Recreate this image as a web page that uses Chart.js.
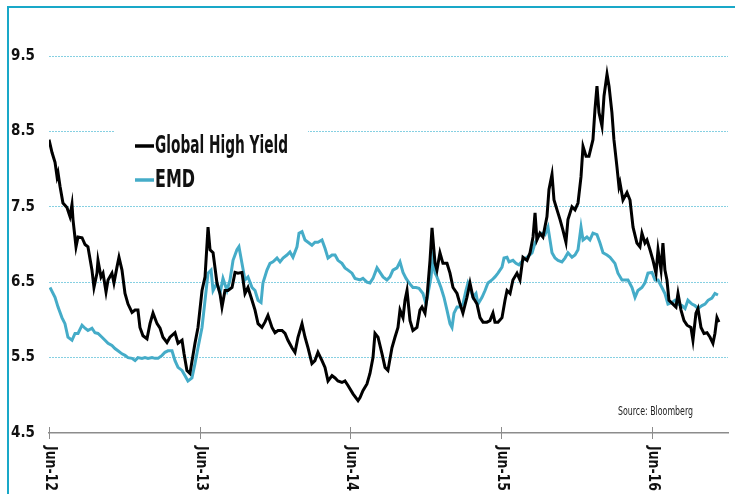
<!DOCTYPE html>
<html>
<head>
<meta charset="utf-8">
<script src="https://cdn.jsdelivr.net/npm/chart.js@4.4.1/dist/chart.umd.min.js"></script>
<style>
  html, body { margin: 0; padding: 0; background: #fff; }
  #wrap { position: relative; width: 735px; height: 494px; overflow: hidden; }
  #frame { position: absolute; left: 7px; top: 6px; right: -2px; bottom: -2px;
           border-top: 2px solid #19a8c8; border-left: 2px solid #19a8c8; pointer-events: none; }
  canvas { position: absolute; left: 0; top: 0; }
</style>
</head>
<body>
<div id="wrap">
  <canvas id="chart" width="735" height="494"></canvas>
  <div id="frame"></div>
</div>
<script>
// months since Jun-12
const xTickMonths = [0, 12, 24, 36, 48];
const xTickLabels = ['Jun-12', 'Jun-13', 'Jun-14', 'Jun-15', 'Jun-16'];
const yTickValues = [4.5, 5.5, 6.5, 7.5, 8.5, 9.5];

const hyMonths = [0.0, 0.24, 0.48, 0.64, 0.72, 0.88, 1.11, 1.43, 1.67, 1.83, 1.91, 2.15, 2.31, 2.63, 2.87, 3.10,
  3.42, 3.58, 3.82, 3.90, 4.14, 4.30, 4.54, 4.70, 5.01, 5.17, 5.41, 5.57, 5.81, 6.05, 6.29, 6.61, 6.85, 7.08,
  7.24, 7.48, 7.80, 8.04, 8.28, 8.60, 8.84, 9.07, 9.39, 9.63, 10.03, 10.27, 10.59, 10.75, 10.98, 11.22, 11.62,
  11.86, 12.18, 12.42, 12.66, 12.82, 13.06, 13.37, 13.61, 13.77, 14.01, 14.25, 14.57, 14.81, 15.04, 15.36,
  15.60, 15.84, 16.16, 16.40, 16.64, 16.95, 17.19, 17.43, 17.75, 17.99, 18.23, 18.55, 18.79, 19.02, 19.34,
  19.58, 19.82, 20.14, 20.38, 20.62, 20.93, 21.17, 21.41, 21.73, 21.97, 22.21, 22.53, 22.77, 23.00, 23.32,
  23.56, 23.80, 24.20, 24.60, 24.76, 24.99, 25.31, 25.55, 25.79, 25.95, 26.19, 26.51, 26.75, 26.98, 27.30,
  27.54, 27.78, 27.94, 28.18, 28.34, 28.50, 28.74, 28.97, 29.29, 29.53, 29.69, 29.93, 30.09, 30.33, 30.49,
  30.73, 30.88, 31.12, 31.36, 31.68, 31.92, 32.16, 32.48, 32.72, 32.95, 33.27, 33.51, 33.75, 34.07, 34.31,
  34.55, 34.86, 35.10, 35.34, 35.50, 35.74, 36.06, 36.30, 36.46, 36.70, 36.93, 37.25, 37.49, 37.73, 38.05,
  38.29, 38.53, 38.69, 38.84, 39.08, 39.32, 39.64, 39.80, 40.04, 40.20, 40.44, 40.68, 40.91, 41.15, 41.31,
  41.63, 41.87, 42.11, 42.35, 42.51, 42.75, 42.98, 43.30, 43.46, 43.62, 43.78, 44.02, 44.18, 44.42, 44.58,
  44.81, 44.97, 45.21, 45.37, 45.45, 45.69, 46.01, 46.25, 46.49, 46.80, 47.04, 47.20, 47.44, 47.60, 47.84,
  48.08, 48.32, 48.48, 48.72, 48.87, 49.03, 49.19, 49.35, 49.67, 49.91, 50.07, 50.31, 50.55, 50.79, 51.10,
  51.26, 51.50, 51.66, 51.90, 52.14, 52.38, 52.62, 52.85, 53.01, 53.17, 53.33];
const hyValues = [8.39, 8.22, 8.09, 7.90, 7.95, 7.77, 7.55, 7.49, 7.37, 7.53, 7.33, 6.97, 7.10, 7.09, 7.00, 6.97,
  6.66, 6.43, 6.62, 6.79, 6.57, 6.62, 6.37, 6.53, 6.62, 6.49, 6.70, 6.83, 6.66, 6.35, 6.21, 6.10, 6.13, 6.13,
  5.90, 5.79, 5.75, 5.95, 6.09, 5.95, 5.89, 5.77, 5.70, 5.77, 5.83, 5.69, 5.73, 5.55, 5.33, 5.29, 5.69,
  5.90, 6.39, 6.57, 7.23, 6.93, 6.89, 6.49, 6.35, 6.17, 6.39, 6.39, 6.43, 6.63, 6.62, 6.63,
  6.35, 6.43, 6.26, 6.13, 5.95, 5.90, 5.97, 6.06, 5.90, 5.83, 5.86, 5.86, 5.82, 5.73, 5.63,
  5.57, 5.77, 5.95, 5.77, 5.63, 5.42, 5.46, 5.57, 5.46, 5.37, 5.19, 5.26, 5.23, 5.19, 5.17,
  5.19, 5.13, 5.02, 4.93, 4.97, 5.06, 5.15, 5.29, 5.50, 5.82, 5.77, 5.55, 5.37, 5.33, 5.63,
  5.77, 5.90, 6.13, 6.03, 6.26, 6.39, 5.99, 5.86, 5.90, 6.13, 6.17, 6.09, 6.30, 6.79, 7.22,
  6.75, 6.66, 6.89, 6.75, 6.75, 6.62, 6.43, 6.35, 6.21, 6.09, 6.30, 6.49, 6.30, 6.21, 6.03,
  5.97, 5.97, 5.99, 6.09, 5.97, 5.97, 6.03, 6.26, 6.39, 6.35, 6.53, 6.62, 6.53, 6.83, 6.79,
  6.89, 7.10, 7.42, 7.06, 7.15, 7.10, 7.37, 7.73, 7.93, 7.59, 7.46, 7.33, 7.19, 7.03, 7.33,
  7.50, 7.46, 7.55, 7.90, 8.30, 8.17, 8.17, 8.39, 8.79, 9.10, 8.75, 8.57, 8.97, 9.26, 9.10,
  8.75, 8.39, 8.03, 7.77, 7.82, 7.59, 7.69, 7.59, 7.23, 7.02, 6.97, 7.15, 7.02, 7.06, 6.93,
  6.79, 6.62, 6.93, 6.66, 7.02, 6.66, 6.53, 6.26, 6.21, 6.17, 6.35, 6.13, 5.99, 5.93, 5.90,
  5.73, 6.09, 6.15, 5.90, 5.82, 5.83, 5.77, 5.69, 5.82, 6.03, 5.97];

const emdMonths = [0.08, 0.48, 0.72, 1.03, 1.27, 1.51, 1.83, 2.07, 2.31, 2.63, 2.87, 3.10, 3.42, 3.66, 3.90,
  4.22, 4.46, 4.70, 5.01, 5.25, 5.49, 5.81, 6.05, 6.29, 6.61, 6.85, 7.08, 7.40, 7.64, 7.88, 8.20, 8.44, 8.68,
  9.00, 9.23, 9.47, 9.79, 10.03, 10.27, 10.59, 10.83, 11.06, 11.38, 11.62, 11.86, 12.18, 12.42, 12.66, 12.90,
  13.06, 13.37, 13.61, 13.85, 14.17, 14.41, 14.65, 14.96, 15.12, 15.36, 15.60, 15.84, 16.16, 16.40, 16.64,
  16.88, 17.03, 17.35, 17.59, 17.83, 18.15, 18.39, 18.63, 18.94, 19.18, 19.42, 19.74, 19.90, 20.14, 20.38,
  20.62, 20.93, 21.17, 21.41, 21.73, 21.97, 22.21, 22.53, 22.77, 23.00, 23.32, 23.56, 23.80, 24.12, 24.36,
  24.76, 24.99, 25.31, 25.55, 25.79, 26.11, 26.35, 26.59, 26.90, 27.14, 27.38, 27.70, 27.94, 28.18, 28.42,
  28.66, 28.97, 29.21, 29.45, 29.77, 30.01, 30.17, 30.41, 30.57, 30.73, 30.88, 31.20, 31.44, 31.68, 31.92,
  32.08, 32.24, 32.48, 32.72, 32.95, 33.19, 33.35, 33.59, 33.75, 33.99, 34.15, 34.47, 34.71, 34.94, 35.26,
  35.50, 35.74, 36.06, 36.22, 36.46, 36.62, 36.93, 37.17, 37.41, 37.73, 38.05, 38.45, 38.69, 38.92, 39.24,
  39.48, 39.72, 39.88, 40.04, 40.28, 40.52, 40.83, 41.07, 41.31, 41.63, 41.87, 42.11, 42.35, 42.51, 42.82,
  43.06, 43.30, 43.62, 43.86, 44.10, 44.42, 44.66, 45.05, 45.29, 45.61, 45.85, 46.09, 46.41, 46.65, 46.88,
  47.20, 47.44, 47.68, 48.00, 48.24, 48.48, 48.79, 49.03, 49.27, 49.59, 49.83, 50.07, 50.39, 50.63, 50.86,
  51.18, 51.42, 51.66, 51.98, 52.22, 52.46, 52.77, 53.01, 53.25];
const emdValues = [6.43, 6.30, 6.17, 6.03, 5.95, 5.77, 5.73, 5.82, 5.82, 5.93, 5.89, 5.86, 5.89, 5.83, 5.82,
  5.77, 5.73, 5.69, 5.66, 5.62, 5.59, 5.55, 5.53, 5.50, 5.49, 5.46, 5.50, 5.49, 5.50, 5.49, 5.50, 5.49, 5.49,
  5.53, 5.57, 5.59, 5.59, 5.46, 5.37, 5.33, 5.26, 5.19, 5.23, 5.42, 5.63, 5.90, 6.26, 6.62, 6.66,
  6.39, 6.49, 6.35, 6.55, 6.39, 6.53, 6.79, 6.93, 6.97, 6.75, 6.53, 6.57, 6.43, 6.39, 6.26,
  6.23, 6.49, 6.66, 6.75, 6.77, 6.82, 6.77, 6.82, 6.86, 6.90, 6.83, 6.97, 7.15, 7.17, 7.06,
  7.03, 6.99, 7.03, 7.03, 7.06, 6.95, 6.82, 6.86, 6.86, 6.79, 6.75, 6.69, 6.66, 6.62, 6.55,
  6.53, 6.55, 6.50, 6.49, 6.55, 6.69, 6.63, 6.57, 6.53, 6.57, 6.66, 6.69, 6.77, 6.63, 6.55,
  6.49, 6.43, 6.43, 6.42, 6.35, 6.21, 6.35, 6.57, 6.83, 6.62, 6.57, 6.43, 6.30, 6.13, 5.95,
  5.90, 6.09, 6.17, 6.17, 6.21, 6.39, 6.49, 6.39, 6.30, 6.35, 6.21, 6.30, 6.39, 6.49, 6.53,
  6.57, 6.62, 6.70, 6.82, 6.83, 6.77, 6.79, 6.75, 6.73, 6.79, 6.83, 6.89, 7.02, 7.10, 7.15,
  7.13, 7.23, 7.06, 6.89, 6.82, 6.79, 6.77, 6.82, 6.89, 6.83, 6.86, 6.93, 7.23, 7.06, 7.10,
  7.06, 7.15, 7.13, 7.02, 6.89, 6.86, 6.83, 6.75, 6.62, 6.53, 6.53, 6.53, 6.43, 6.30, 6.39,
  6.43, 6.49, 6.62, 6.63, 6.53, 6.53, 6.43, 6.35, 6.21, 6.23, 6.26, 6.21, 6.19, 6.15, 6.26,
  6.21, 6.19, 6.15, 6.19, 6.21, 6.26, 6.29, 6.35, 6.33];

const FONT = "'Liberation Sans Narrow', 'DejaVu Sans Condensed', 'Liberation Sans', sans-serif";
const BLACK = '#000000';
const TEAL = '#45acc8';

function points(xs, ys) {
  return xs.map((m, i) => ({ x: m, y: ys[i] }));
}

//legend box, drawn over the grid but under the lines
const legendBox = {
  id: 'legendBox',
  beforeDatasetsDraw(chart) {
    const ctx = chart.ctx;
    ctx.save();
    ctx.fillStyle = '#fff';
    ctx.fillRect(115, 124, 193, 72);
    const items = [['Global High Yield', BLACK, 146, 133], ['EMD', TEAL, 180, 40]];
    items.forEach(([text, color, y, w]) => {
      ctx.strokeStyle = color;
      ctx.lineWidth = 3.5;
      ctx.beginPath();
      ctx.moveTo(135, y);
      ctx.lineTo(154, y);
      ctx.stroke();
      ctx.fillStyle = '#111';
      ctx.font = 'bold 24px ' + FONT;
      ctx.textBaseline = 'middle';
      ctx.textAlign = 'left';
      ctx.fillText(text, 155, y + 1, w);
    });
    ctx.restore();
  }
};

//x ticks cross the axis, labels turned clockwise, source note
const extras = {
  id: 'extras',
  afterDraw(chart) {
    const { ctx, chartArea, scales: { x } } = chart;
    ctx.save();
    xTickMonths.forEach((m, i) => {
      const px = Math.round(x.getPixelForValue(m)) + 0.5;
      ctx.strokeStyle = '#8c8c8c';
      ctx.lineWidth = 1;
      ctx.beginPath();
      ctx.moveTo(px, chartArea.bottom - 6);
      ctx.lineTo(px, chartArea.bottom + 6);
      ctx.stroke();
      ctx.save();
      ctx.translate(px, chartArea.bottom + 13);
      ctx.rotate(Math.PI / 2);
      ctx.fillStyle = '#111';
      ctx.font = 'bold 15px ' + FONT;
      ctx.textAlign = 'left';
      ctx.textBaseline = 'middle';
      ctx.fillText(xTickLabels[i], 0, 0, 45);
      ctx.restore();
    });
    ctx.fillStyle = '#222';
    ctx.font = '13px ' + FONT;
    ctx.textAlign = 'left';
    ctx.textBaseline = 'middle';
    ctx.fillText('Source: Bloomberg', 618, 412, 75);
    ctx.restore();
  }
};

new Chart('chart', {
  type: 'line',
  data: {
    datasets: [{
      label: 'Global High Yield',
      data: points(hyMonths, hyValues),
      borderColor: BLACK,
      borderWidth: 3,
      pointRadius: 0,
      tension: 0
    }, {
      label: 'EMD',
      data: points(emdMonths, emdValues),
      borderColor: TEAL,
      borderWidth: 3,
      pointRadius: 0,
      tension: 0
    }]
  },
  options: {
    responsive: false,
    animation: false,
    layout: { padding: { top: 56, left: 0, right: 7, bottom: 0 } },
    plugins: { legend: { display: false }, tooltip: { enabled: false } },
    scales: {
      x: {
        type: 'linear',
        min: 0,
        max: 54.05,
        afterFit: s => { s.height = 61; },
        ticks: { display: false },
        grid: { display: false },
        border: { display: true, color: '#8c8c8c', width: 1.5 }
      },
      y: {
        min: 4.5,
        max: 9.5,
        afterFit: s => { s.width = 49; },
        afterBuildTicks: s => { s.ticks = yTickValues.map(v => ({ value: v })); },
        ticks: {
          padding: 14,
          color: '#111',
          font: { family: FONT, size: 15, weight: 'bold' },
          callback: v => v.toFixed(1)
        },
        grid: {
          drawTicks: false,
          color: c => (c.tick && c.tick.value === 4.5 ? 'rgba(0,0,0,0)' : '#86d0e2'),
          lineWidth: 1
        },
        border: { display: false, dash: [2, 1] }
      }
    }
  },
  plugins: [legendBox, extras]
});
</script>
</body>
</html>
